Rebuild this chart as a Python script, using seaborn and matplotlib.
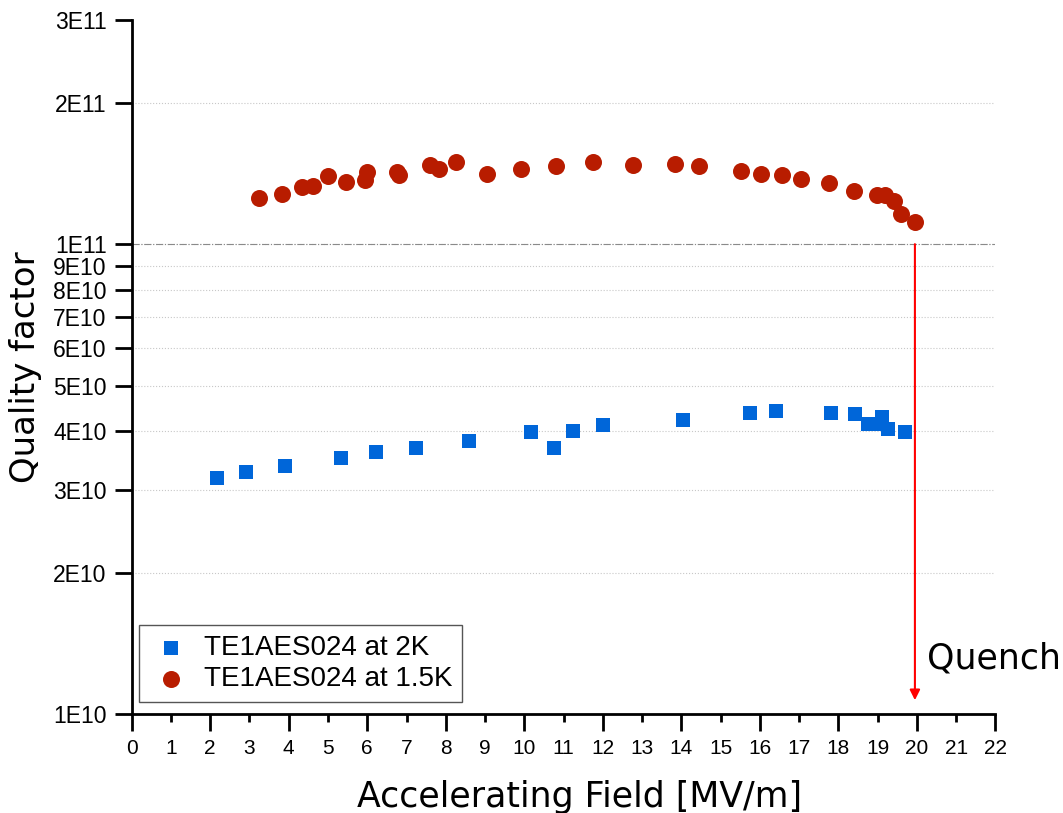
import matplotlib
matplotlib.use("Agg")
import matplotlib.pyplot as plt
import seaborn as sns
import pandas as pd
from matplotlib.ticker import NullLocator

# ---- data ----
field_2k = [2.17, 2.91, 3.90, 5.32, 6.23, 7.25, 8.58, 10.17, 10.76, 11.25, 12.00,
            14.03, 15.75, 16.42, 17.80, 18.42, 18.75, 18.92, 19.12, 19.26, 19.69]
q_2k = [3.18e10, 3.27e10, 3.37e10, 3.51e10, 3.61e10, 3.68e10, 3.82e10, 3.98e10, 3.68e10,
        4.01e10, 4.13e10, 4.22e10, 4.38e10, 4.41e10, 4.38e10, 4.34e10, 4.14e10, 4.14e10,
        4.28e10, 4.04e10, 3.98e10]

field_15k = [3.25, 3.83, 4.35, 4.61, 5.01, 5.45, 5.95, 5.99, 6.76, 6.81, 7.59, 7.83, 8.26,
             9.06, 9.92, 10.80, 11.74, 12.78, 13.83, 14.46, 15.53, 16.04, 16.56, 17.06,
             17.75, 18.39, 18.99, 19.20, 19.41, 19.60, 19.94]
q_15k = [1.254e11, 1.281e11, 1.323e11, 1.328e11, 1.396e11, 1.359e11, 1.372e11, 1.424e11,
         1.427e11, 1.403e11, 1.472e11, 1.445e11, 1.494e11, 1.410e11, 1.445e11, 1.470e11,
         1.494e11, 1.474e11, 1.484e11, 1.467e11, 1.434e11, 1.413e11, 1.406e11, 1.376e11,
         1.349e11, 1.300e11, 1.271e11, 1.271e11, 1.238e11, 1.162e11, 1.114e11]

label_2k = "TE1AES024 at 2K"
label_15k = "TE1AES024 at 1.5K"

y_ticks = [1e10, 2e10, 3e10, 4e10, 5e10, 6e10, 7e10, 8e10, 9e10, 1e11, 2e11, 3e11]
y_tick_labels = ["1E10", "2E10", "3E10", "4E10", "5E10", "6E10", "7E10", "8E10", "9E10",
                 "1E11", "2E11", "3E11"]
x_major = list(range(0, 23, 2))
x_minor = list(range(1, 22, 2))

quench_field = 19.95
quench_start = 1e11
quench_end = 1.07e10
quench_text = "Quench"

# ---- plot ----
sns.set_style("white")
plt.rcParams["font.family"] = ["Liberation Sans", "DejaVu Sans"]
plt.rcParams["text.color"] = "black"
plt.rcParams["axes.labelcolor"] = "black"
plt.rcParams["xtick.color"] = "black"
plt.rcParams["ytick.color"] = "black"

fig = plt.figure(figsize=(10.63, 8.13), dpi=100)
ax = fig.add_axes([0.1239, 0.1218, 0.8125, 0.8536])

df2 = pd.DataFrame({"field": field_2k, "q": q_2k})
df15 = pd.DataFrame({"field": field_15k, "q": q_15k})

ax.set_yscale("log")
sns.scatterplot(data=df2, x="field", y="q", marker="s", color="#0066D9", s=95,
                linewidth=0, label=label_2k, ax=ax, zorder=3)
sns.scatterplot(data=df15, x="field", y="q", marker="o", color="#B81C00", s=150,
                linewidth=0, label=label_15k, ax=ax, zorder=3)

ax.set_xlim(0, 22)
ax.set_ylim(1e10, 3e11)

# y ticks
ax.set_yticks(y_ticks)
ax.set_yticklabels(y_tick_labels)
ax.yaxis.set_minor_locator(NullLocator())
ax.tick_params(axis="y", which="major", direction="out", length=12, width=2,
               labelsize=16.5, pad=6, left=True, colors="black")

# x ticks
ax.set_xticks(x_major)
ax.set_xticklabels([str(v) for v in x_major])
ax.set_xticks(x_minor, minor=True)
ax.set_xticklabels([str(v) for v in x_minor], minor=True)
ax.tick_params(axis="x", which="major", direction="out", length=12, width=2,
               labelsize=15, pad=6, bottom=True, colors="black")
ax.tick_params(axis="x", which="minor", direction="out", length=6, width=2,
               labelsize=15, pad=12, bottom=True, colors="black")

# grid
ax.grid(axis="y", which="major", linestyle=":", color="#c8c8c8", linewidth=0.8)
ax.grid(axis="x", visible=False)
fig.canvas.draw()
ax.yaxis.get_gridlines()[-1].set_visible(False)
ax.axhline(quench_start, linestyle="-.", color="#8a8a8a", linewidth=0.8, zorder=1)

# spines
for side in ["top", "right"]:
    ax.spines[side].set_visible(False)
for side in ["left", "bottom"]:
    ax.spines[side].set_color("black")
    ax.spines[side].set_linewidth(2)

# labels
ax.set_xlabel("Accelerating Field [MV/m]", fontsize=25, family="DejaVu Sans",
              color="black")
ax.xaxis.set_label_coords(0.518, -0.095)
ax.set_ylabel("Quality factor", fontsize=24.5, family="DejaVu Sans", labelpad=8,
              color="black")

# quench arrow
ax.annotate("", xy=(quench_field, quench_end), xytext=(quench_field, quench_start),
            arrowprops=dict(arrowstyle="-|>", color="#FF0000", lw=1.5,
                            mutation_scale=15, shrinkA=0, shrinkB=0))
ax.text(20.27, 1.315e10, quench_text, fontsize=25, family="DejaVu Sans",
        va="center", ha="left", color="black", clip_on=False)

# legend
leg = ax.legend(loc="lower left", bbox_to_anchor=(0.008, 0.017), borderaxespad=0,
                fontsize=20, frameon=True, fancybox=False, edgecolor="#555555",
                framealpha=1, handlelength=1.6, handletextpad=0.4, labelspacing=0.2,
                borderpad=0.35)
leg.get_frame().set_linewidth(1.0)
for t in leg.get_texts():
    t.set_color("black")

fig.savefig("out.png", dpi=100)
